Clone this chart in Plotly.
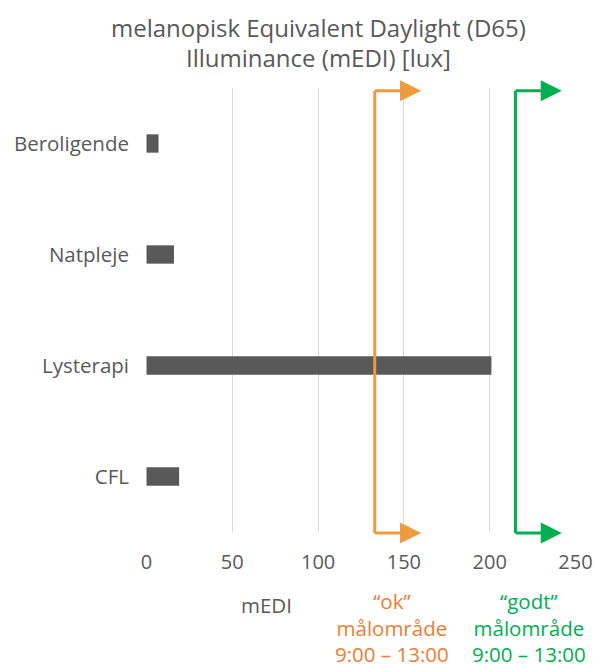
import plotly.graph_objects as go

categories = ["Beroligende", "Natpleje", "Lysterapi", "CFL"]
medi_values = [7, 16, 201, 19]
x_ticks = [0, 50, 100, 150, 200, 250]
ok_threshold = 133
good_threshold = 215
title_lines = ["melanopisk Equivalent Daylight (D65)", "Illuminance (mEDI) [lux]"]

FONT = "Open Sans"
GRAY = "#595959"
ORANGE_ARROW = "#F09A3E"
ORANGE_TEXT = "#ED7D31"
GREEN = "#00B050"

fig = go.Figure(go.Bar(
    x=medi_values, y=categories, orientation="h",
    marker=dict(color=GRAY, line=dict(width=0)),
    width=0.165,
))

fig.update_layout(
    width=595, height=664,
    margin=dict(l=146, r=19, t=88, b=132),
    paper_bgcolor="white", plot_bgcolor="white",
    showlegend=False,
    font=dict(family=FONT, color=GRAY),
)
fig.update_xaxes(range=[-0.3, 250.3], tickvals=x_ticks, showgrid=True, gridcolor="#D9D9D9",
                 gridwidth=1, zeroline=False, showline=False, automargin=False,
                 tickfont=dict(family=FONT, size=20, color=GRAY),
                 ticklabelstandoff=16, ticklabeloverflow="allow")
fig.update_yaxes(categoryorder="array", categoryarray=categories, autorange="reversed",
                 showgrid=False, zeroline=False, showline=False, automargin=False,
                 tickfont=dict(family=FONT, size=20.5, color=GRAY),
                 ticklabelstandoff=16)

shapes = []
annotations = []
for thr, col, tip in [(ok_threshold, ORANGE_ARROW, 27), (good_threshold, GREEN, 27)]:
    shapes.append(dict(type="line", xref="x", yref="paper", x0=thr, x1=thr,
                       y0=-0.002, y1=0.994, line=dict(color=col, width=3)))
    for yy in [0.994, -0.002]:
        annotations.append(dict(xref="x", yref="paper", x=thr + tip, y=yy,
                                axref="x", ayref="pixel", ax=thr - 0.8, ay=0,
                                text="", showarrow=True, arrowhead=2, arrowsize=1.4,
                                arrowwidth=3, arrowcolor=col, standoff=0))

for txt, yy in zip(title_lines, [1.136, 1.0687]):
    annotations.append(dict(xref="paper", yref="paper", x=0.40, y=yy, yanchor="middle",
                            text=txt, showarrow=False,
                            font=dict(family=FONT, size=24, color=GRAY)))

annotations.append(dict(xref="x", yref="paper", x=70, y=-0.1644, yanchor="middle",
                        text="mEDI", showarrow=False,
                        font=dict(family=FONT, size=20.5, color=GRAY)))
annotations.append(dict(xref="x", yref="paper", x=143, y=-0.214, yanchor="middle",
                        text="“ok”<br>målområde<br>9:00 – 13:00", showarrow=False,
                        font=dict(family=FONT, size=20.5, color=ORANGE_TEXT)))
annotations.append(dict(xref="x", yref="paper", x=223, y=-0.214, yanchor="middle",
                        text="“godt”<br>målområde<br>9:00 – 13:00", showarrow=False,
                        font=dict(family=FONT, size=20.5, color=GREEN)))

fig.update_layout(shapes=shapes, annotations=annotations)
fig.write_html("out.html", config={"displayModeBar": False},
               post_script="document.body.style.margin='0';document.body.style.overflow='hidden';")
